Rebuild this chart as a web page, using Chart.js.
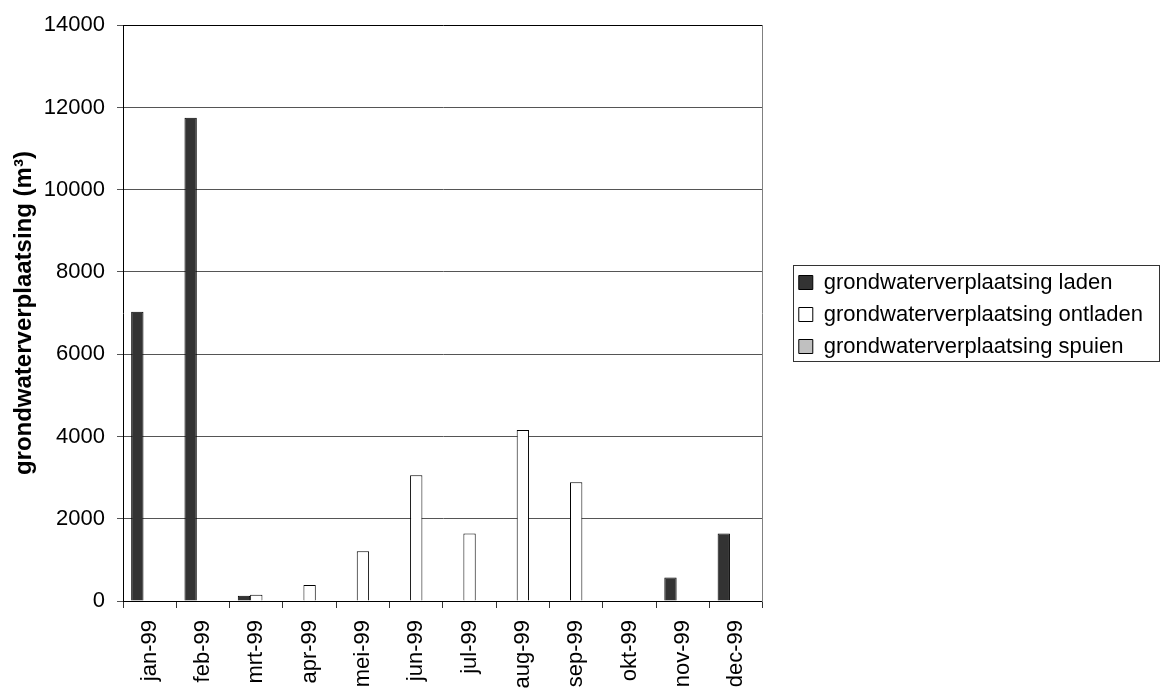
<!DOCTYPE html>
<html>
<head>
<meta charset="utf-8">
<script src="https://cdn.jsdelivr.net/npm/chart.js@4.4.1/dist/chart.umd.min.js"></script>
<style>
  html, body { margin: 0; padding: 0; background: #fff; }
  #wrap { width: 1161px; height: 690px; }
</style>
</head>
<body>
<div id="wrap"><canvas id="chart" width="1161" height="690"></canvas></div>
<script>
// Months and values
const months = ['jan-99', 'feb-99', 'mrt-99', 'apr-99', 'mei-99', 'jun-99', 'jul-99', 'aug-99', 'sep-99', 'okt-99', 'nov-99', 'dec-99'];
const laden = [7030, 11750, 130, 0, 0, 0, 0, 0, 0, 0, 570, 1640];
const ontladen = [0, 0, 150, 390, 1210, 3060, 1640, 4160, 2890, 0, 0, 0];
const spuien = [0, 0, 0, 0, 0, 0, 0, 0, 0, 0, 0, 0];
const yTicks = [0, 2000, 4000, 6000, 8000, 10000, 12000, 14000];

const FONT = "'Liberation Sans', Arial, sans-serif";

// Move the legend a bit (Excel puts it higher than the middle of the canvas)
// and draw a frame round it
const legendBox = {
    id: 'legendBox',
    afterLayout(chart) {
        const lg = chart.legend;
        if (!lg) return;
        lg.bottom -= 81;
        lg.height = lg.bottom - lg.top;
        lg.left -= 8;
        lg.right -= 8;
    },
    afterDraw(chart) {
        const hb = chart.legend && chart.legend.legendHitBoxes;
        if (!hb || !hb.length) return;
        const ctx = chart.ctx;
        const left = Math.round(hb[0].left - 6) + 0.5;
        const top = Math.round(hb[0].top - 7) + 0.5;
        const last = hb[hb.length - 1];
        const bottom = Math.round(last.top + last.height + 3) + 0.5;
        const right = chart.width - 1.5;
        ctx.save();
        ctx.strokeStyle = '#333';
        ctx.lineWidth = 1;
        ctx.strokeRect(left, top, right - left, bottom - top);
        ctx.restore();
    }
};

const config = {
    type: 'bar',
    data: {
        labels: months,
        datasets: [{
            label: 'grondwaterverplaatsing laden',
            data: laden,
            backgroundColor: '#333333',
            borderColor: '#000000',
            borderWidth: 1
        }, {
            label: 'grondwaterverplaatsing ontladen',
            data: ontladen,
            backgroundColor: '#ffffff',
            borderColor: '#000000',
            borderWidth: 1
        }, {
            label: 'grondwaterverplaatsing spuien',
            data: spuien,
            backgroundColor: '#c0c0c0',
            borderColor: '#000000',
            borderWidth: 1
        }]
    },
    options: {
        responsive: false,
        animation: false,
        devicePixelRatio: 1,
        categoryPercentage: 0.694,
        barPercentage: 1,
        layout: { padding: { top: 20, left: 0, right: 0, bottom: 0 } },
        plugins: {
            tooltip: { enabled: false },
            legend: {
                position: 'right',
                align: 'center',
                maxWidth: 420,
                labels: {
                    color: '#000',
                    font: { family: FONT, size: 22 },
                    boxWidth: 14,
                    boxHeight: 14,
                    padding: 10
                }
            }
        },
        scales: {
            x: {
                grid: {
                    offset: true,
                    drawOnChartArea: false,
                    tickLength: 7,
                    tickColor: '#333'
                },
                border: { color: '#000', width: 1 },
                ticks: {
                    color: '#000',
                    font: { family: FONT, size: 22 },
                    minRotation: 90,
                    maxRotation: 90,
                    padding: 12,
                    autoSkip: false
                },
                afterFit: s => { s.height = 89; }
            },
            y: {
                min: 0,
                max: 14000,
                afterBuildTicks: s => { s.ticks = yTicks.map(v => ({ value: v })); },
                grid: {
                    color: c => (c.tick && c.tick.value === 14000) ? '#000' : '#555',
                    tickColor: '#555',
                    tickLength: 6
                },
                border: { color: '#000', width: 1 },
                ticks: {
                    color: '#000',
                    font: { family: FONT, size: 22 },
                    padding: 12,
                    callback: v => String(v)
                },
                title: {
                    display: true,
                    text: 'grondwaterverplaatsing (m³)',
                    color: '#000',
                    font: { family: FONT, size: 24, weight: 'bold' },
                    padding: { top: 10, bottom: 0 }
                },
                afterFit: s => { s.width = 123; }
            },
            y2: {
                position: 'right',
                display: true,
                grid: { display: false },
                ticks: { display: false },
                border: { display: true, color: '#808080', width: 1 },
                afterFit: s => { s.width = 34; }
            }
        }
    },
    plugins: [legendBox]
};

document.addEventListener('DOMContentLoaded', function() {
    const ctx = document.getElementById('chart').getContext('2d');
    window.myChart = new Chart(ctx, config);
});
</script>
</body>
</html>
